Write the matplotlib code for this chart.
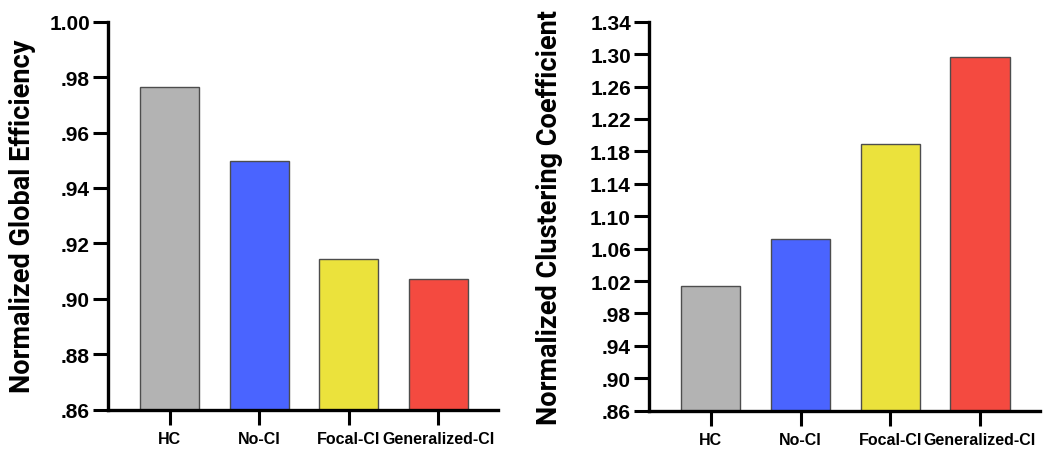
import matplotlib
matplotlib.use("Agg")
import matplotlib.pyplot as plt
from matplotlib.ticker import FuncFormatter
import numpy as np

# groups and values
groups = ["HC", "No-CI", "Focal-CI", "Generalized-CI"]
colors = ["#b3b3b3", "#4a64ff", "#ebe23c", "#f44a40"]

global_eff = [0.9763, 0.9496, 0.9143, 0.9072]
clustering = [1.0142, 1.0719, 1.1891, 1.2968]

eff_ticks = np.arange(0.86, 1.0001, 0.02)
clu_ticks = np.arange(0.86, 1.3401, 0.04)

plt.rcParams['font.family'] = ['Liberation Sans', 'DejaVu Sans']
plt.rcParams['font.weight'] = 'bold'


def fmt(v, pos):
    s = "%.2f" % v
    return s[1:] if s.startswith("0") else s


def panel(ax, vals, ticks, label, labelx):
    x = np.arange(len(groups))
    ax.bar(x, vals, width=0.66, color=colors, edgecolor="#4d4d4d", linewidth=1.0,
           bottom=0, zorder=2)
    ax.set_xlim(-0.69, 3.67)
    ax.set_ylim(ticks[0], ticks[-1])
    ax.set_yticks(ticks)
    ax.yaxis.set_major_formatter(FuncFormatter(fmt))
    ax.set_xticks(x)
    ax.set_xticklabels(groups, fontsize=11.5, fontweight='bold')
    for lab in ax.get_yticklabels():
        lab.set_fontsize(15)
        lab.set_fontweight('bold')
    ax.spines['top'].set_visible(False)
    ax.spines['right'].set_visible(False)
    for s in ['left', 'bottom']:
        ax.spines[s].set_linewidth(2.4)
    ax.tick_params(axis='both', width=2.2, length=11, direction='out')
    ax.tick_params(axis='x', pad=4)
    ax.tick_params(axis='y', pad=2)
    ax.set_ylabel(label, fontsize=19.5, fontweight='bold', family=['Roboto'])
    ax.yaxis.set_label_coords(labelx, 0.5)


fig = plt.figure(figsize=(10.5, 4.52), dpi=100)
ax1 = fig.add_axes([0.1029, 0.0914, 0.3714, 0.8584])
ax2 = fig.add_axes([0.6181, 0.0892, 0.3724, 0.8606])

panel(ax1, global_eff, eff_ticks, "Normalized Global Efficiency", -0.185)
panel(ax2, clustering, clu_ticks, "Normalized Clustering Coefficient", -0.22)

fig.savefig("out.png", dpi=100)
